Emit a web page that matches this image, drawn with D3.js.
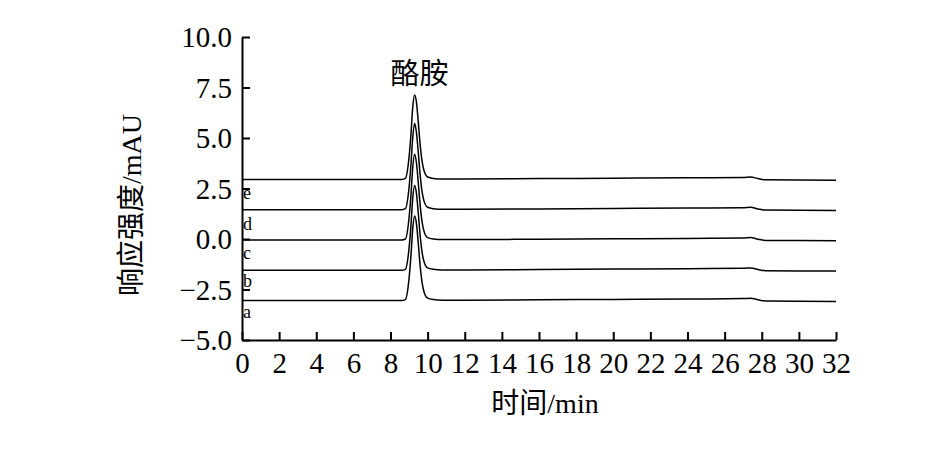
<!DOCTYPE html>
<html>
<head>
<meta charset="utf-8">
<script src="https://cdn.jsdelivr.net/npm/d3@7"></script>
<style>
  html, body { margin: 0; padding: 0; background: #fff; }
  svg { display: block; }
  text { font-family: "Liberation Serif", "Noto Sans CJK SC", serif; fill: #000; }
</style>
</head>
<body>
<svg id="chart" width="942" height="458"></svg>
<script>
// ---- data ----
const time = [0, 2, 4, 6, 8, 8.6, 8.8, 9.0, 9.1, 9.2, 9.3, 9.4, 9.5, 9.6, 9.7, 9.8, 10.0, 10.3, 10.8, 12, 16, 20, 24, 27.0, 27.4, 27.8, 28.2, 30, 32];
const seriesA = [-3.05,-3.05,-3.05,-3.05,-3.05,-3.05,-3.0,-1.95,-0.85,0.55,1.14,0.75,-0.25,-1.35,-2.15,-2.6,-2.93,-3.0,-3.03,-3.03,-3.01,-2.99,-2.97,-2.95,-2.93,-3.01,-3.07,-3.08,-3.09];
const seriesB = [-1.55,-1.55,-1.55,-1.55,-1.55,-1.55,-1.5,-0.45,0.65,2.05,2.65,2.25,1.25,0.15,-0.65,-1.1,-1.43,-1.5,-1.53,-1.53,-1.51,-1.49,-1.47,-1.45,-1.43,-1.51,-1.57,-1.58,-1.59];
const seriesC = [-0.05,-0.05,-0.05,-0.05,-0.05,-0.05,0.0,1.05,2.15,3.55,4.19,3.75,2.75,1.65,0.85,0.4,0.07,0.0,-0.03,-0.03,-0.01,0.01,0.03,0.05,0.07,-0.01,-0.07,-0.08,-0.09];
const seriesD = [1.45,1.45,1.45,1.45,1.45,1.45,1.5,2.55,3.65,5.05,5.73,5.25,4.25,3.15,2.35,1.9,1.57,1.5,1.47,1.47,1.49,1.51,1.53,1.55,1.57,1.49,1.43,1.42,1.41];
const seriesE = [2.95,2.95,2.95,2.95,2.95,2.95,3.0,4.05,5.15,6.55,7.13,6.75,5.75,4.65,3.85,3.4,3.07,3.0,2.97,2.97,2.99,3.01,3.03,3.05,3.07,2.99,2.93,2.92,2.91];
const seriesLabels = ["a", "b", "c", "d", "e"];
const xTicks = [0,2,4,6,8,10,12,14,16,18,20,22,24,26,28,30,32];
const yTicks = [-5, -2.5, 0, 2.5, 5, 7.5, 10];
const peakName = "酪胺";
const peakTime = 9.3;
const xTitle = "时间/min";
const yTitle = "响应强度/mAU";

// ---- drawing ----
const svg = d3.select("#chart");
svg.append("rect").attr("width", 942).attr("height", 458).attr("fill", "#fff");

const x = d3.scaleLinear().domain([0, 32]).range([242, 836]);
const y = d3.scaleLinear().domain([-5, 10]).range([340, 37]);

const allSeries = [seriesA, seriesB, seriesC, seriesD, seriesE];
const line = d3.line()
  .x((d, i) => x(time[i]))
  .y(d => y(d))
  .curve(d3.curveMonotoneX);

svg.append("g").selectAll("path")
  .data(allSeries)
  .join("path")
  .attr("d", d => line(d))
  .attr("fill", "none")
  .attr("stroke", "#000")
  .attr("stroke-width", 1.5);

// series labels
const labelDy = [17, 17, 19, 20, 20];
svg.append("g").selectAll("text")
  .data(allSeries)
  .join("text")
  .attr("x", 243)
  .attr("y", (d, i) => y(d[0]) + labelDy[i])
  .style("font-family", "'Liberation Serif', serif")
  .style("font-size", "18px")
  .text((d, i) => seriesLabels[i]);

// axes
const xAxis = d3.axisBottom(x).tickValues(xTicks).tickSizeInner(-8).tickSizeOuter(0).tickPadding(12).tickFormat(d3.format("d"));
const yAxis = d3.axisLeft(y).tickValues(yTicks).tickSizeInner(-8).tickSizeOuter(0).tickPadding(10).tickFormat(d3.format(".1f"));

const gx = svg.append("g").attr("transform", "translate(0,340)").call(xAxis);
const gy = svg.append("g").attr("transform", "translate(242,0)").call(yAxis);
[gx, gy].forEach(g => {
  g.attr("font-family", null).attr("font-size", null);
  g.select(".domain").attr("stroke", "#000").attr("stroke-width", 2);
  g.selectAll(".tick line").attr("stroke", "#000").attr("stroke-width", 2);
  g.selectAll(".tick text")
    .style("font-family", "'Liberation Serif', serif")
    .style("font-size", "29px")
    .attr("fill", "#000");
});
gx.selectAll(".tick text").attr("dy", "0.71em");
gy.selectAll(".tick text").attr("dy", "0.34em");

// peak annotation
svg.append("text")
  .attr("x", x(peakTime) + 5)
  .attr("y", 84)
  .attr("text-anchor", "middle")
  .style("font-size", "29px")
  .text(peakName);

// axis titles
svg.append("text")
  .attr("x", 545)
  .attr("y", 413)
  .attr("text-anchor", "middle")
  .style("font-size", "28px")
  .text(xTitle);

svg.append("text")
  .attr("transform", "translate(141,205) rotate(-90)")
  .attr("text-anchor", "middle")
  .style("font-size", "28px")
  .text(yTitle);
</script>
</body>
</html>
